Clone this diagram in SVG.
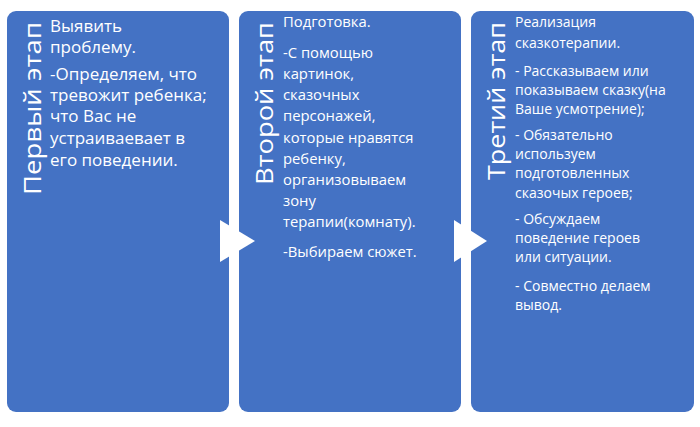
<svg xmlns="http://www.w3.org/2000/svg" width="700" height="427" viewBox="0 0 700 427">
<style>
.box{fill:#4472C4}
.t{fill:#fff;font-family:"Open Sans","Liberation Sans",sans-serif}
.title{font-size:23px}
.arr{fill:#fff}
</style>
<rect width="700" height="427" fill="#fff"/>
<g id="stage1">
<rect class="box" x="7" y="11" width="222" height="401" rx="9"/>
<text class="t title" transform="translate(41,195) rotate(-90)" textLength="173" lengthAdjust="spacingAndGlyphs">Первый этап</text>
<text class="t" font-size="17" x="50">
<tspan x="50" y="32">Выявить</tspan><tspan x="50" y="53">проблему.</tspan>
<tspan x="50" y="80">-Определяем, что</tspan><tspan x="50" y="101">тревожит ребенка;</tspan>
<tspan x="50" y="122">что Вас не</tspan><tspan x="50" y="144">устраиваевает в</tspan><tspan x="50" y="166">его поведении.</tspan>
</text>
</g>
<g id="stage2">
<rect class="box" x="239" y="11" width="222" height="401" rx="9"/>
<text class="t title" transform="translate(273,185) rotate(-90)" textLength="163" lengthAdjust="spacingAndGlyphs">Второй этап</text>
<text class="t" font-size="14.8">
<tspan x="283" y="27">Подготовка.</tspan>
<tspan x="283" y="58">-С помощью</tspan><tspan x="283" y="79">картинок,</tspan><tspan x="283" y="100">сказочных</tspan>
<tspan x="283" y="121">персонажей,</tspan><tspan x="283" y="143">которые нравятся</tspan><tspan x="283" y="164">ребенку,</tspan>
<tspan x="283" y="185">организовываем</tspan><tspan x="283" y="206">зону</tspan><tspan x="283" y="227">терапии(комнату).</tspan>
<tspan x="283" y="257">-Выбираем сюжет.</tspan>
</text>
</g>
<g id="stage3">
<rect class="box" x="471" y="11" width="223" height="401" rx="9"/>
<text class="t title" transform="translate(505,180) rotate(-90)" textLength="158" lengthAdjust="spacingAndGlyphs">Третий этап</text>
<text class="t" font-size="14">
<tspan x="515" y="27">Реализация</tspan><tspan x="515" y="48">сказкотерапии.</tspan>
<tspan x="515" y="76">- Рассказываем или</tspan><tspan x="515" y="95">показываем сказку(на</tspan><tspan x="515" y="114">Ваше усмотрение);</tspan>
<tspan x="515" y="140">- Обязательно</tspan><tspan x="515" y="159">используем</tspan><tspan x="515" y="178">подготовленных</tspan><tspan x="515" y="198">сказочых героев;</tspan>
<tspan x="515" y="224">- Обсуждаем</tspan><tspan x="515" y="243">поведение героев</tspan><tspan x="515" y="262">или ситуации.</tspan>
<tspan x="515" y="291">- Совместно делаем</tspan><tspan x="515" y="310">вывод.</tspan>
</text>
</g>
<g id="connectors">
<polygon class="arr" points="220,220 255,241 220,262"/>
<polygon class="arr" points="454,220 487,241 454,262"/>
</g>
</svg>
